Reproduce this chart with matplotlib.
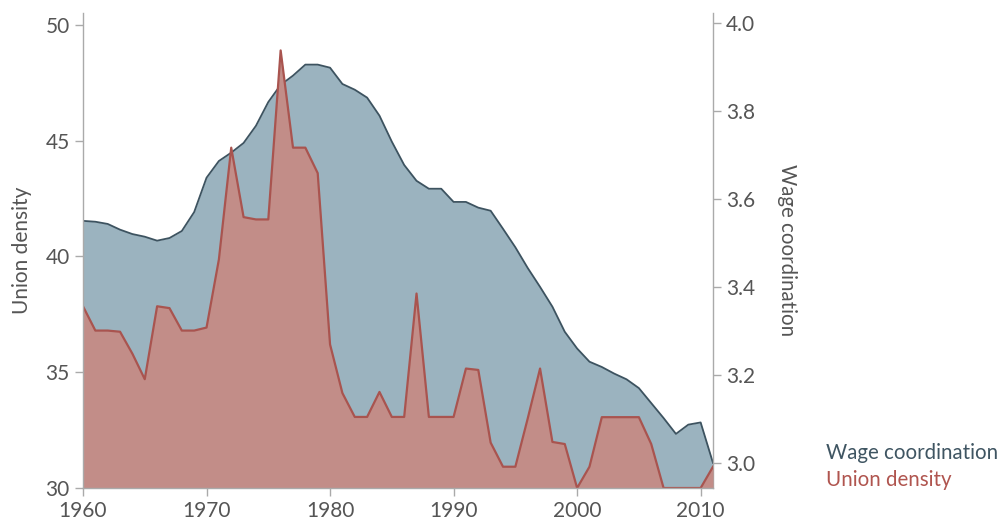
import matplotlib
matplotlib.use("Agg")
import matplotlib.pyplot as plt

years = list(range(1960, 2012))

union_density = [37.85, 36.8, 36.8, 36.75, 35.8, 34.7, 37.85, 37.77, 36.8, 36.8,
                 36.93, 39.87, 44.7, 41.7, 41.6, 41.6, 48.9, 44.7, 44.7, 43.6,
                 36.2, 34.1, 33.07, 33.07, 34.15, 33.07, 33.07, 38.4, 33.07, 33.07,
                 33.07, 35.16, 35.1, 31.96, 30.92, 30.92, 33.0, 35.16, 31.99, 31.9,
                 30.0, 30.92, 33.06, 33.06, 33.06, 33.06, 31.9, 30.0, 30.0, 30.0,
                 30.0, 30.92]

wage_coord = [3.55, 3.548, 3.543, 3.53, 3.52, 3.514, 3.505, 3.511, 3.527, 3.57,
              3.648, 3.686, 3.705, 3.727, 3.766, 3.82, 3.859, 3.88, 3.905, 3.905,
              3.898, 3.861, 3.848, 3.83, 3.789, 3.73, 3.677, 3.641, 3.623, 3.623,
              3.593, 3.593, 3.58, 3.573, 3.532, 3.49, 3.443, 3.4, 3.355, 3.298,
              3.26, 3.23, 3.218, 3.203, 3.19, 3.17, 3.136, 3.102, 3.066, 3.087,
              3.092, 3.0]

x_ticks = [1960, 1970, 1980, 1990, 2000, 2010]
left_ticks = [30, 35, 40, 45, 50]
right_ticks = [3.0, 3.2, 3.4, 3.6, 3.8, 4.0]

blue_fill = "#9bb3bf"
blue_line = "#3d5360"
red_fill = "#c28d88"
red_line = "#a9544f"
grey = "#555555"
spine = "#aaaaaa"

plt.rcParams['font.family'] = ['Lato', 'DejaVu Sans']

fig = plt.figure(figsize=(10, 5.26), dpi=100)
ax = fig.add_axes([0.083, 0.0722, 0.63, 0.9037])
ax2 = ax.twinx()

# wage coordination (right axis) sits behind union density
ax2.fill_between(years, wage_coord, 2.943, color=blue_fill, lw=0)
ax2.plot(years, wage_coord, color=blue_line, lw=1.3)
ax.fill_between(years, union_density, 30, color=red_fill, lw=0)
ax.plot(years, union_density, color=red_line, lw=1.6)

ax.set_zorder(ax2.get_zorder() + 1)
ax.patch.set_visible(False)

ax.set_xlim(1960, 2011)
ax.set_ylim(30, 50.53)
ax2.set_ylim(2.943, 4.023)

ax.set_xticks(x_ticks)
ax.set_yticks(left_ticks)
ax2.set_yticks(right_ticks)
ax2.set_yticklabels([f"{t:.1f}" for t in right_ticks])

for a in (ax, ax2):
    for s in a.spines.values():
        s.set_color(spine)
        s.set_linewidth(1.0)
    a.spines['top'].set_visible(False)
    a.tick_params(colors=spine, labelcolor=grey, labelsize=15, length=6, width=1)
ax.spines['right'].set_visible(False)
ax2.spines['left'].set_visible(False)
ax2.spines['bottom'].set_visible(False)

ax.set_ylabel("Union density", fontsize=15, color=grey, labelpad=10)
ax2.set_ylabel("Wage coordination", fontsize=14.8, color=grey, rotation=270, labelpad=30)

fig.text(0.826, 0.138, "Wage coordination", fontsize=14.8, color="#3f5562", va="center")
fig.text(0.826, 0.087, "Union density", fontsize=14.8, color="#b0554f", va="center")

fig.savefig("out.png", dpi=100)
